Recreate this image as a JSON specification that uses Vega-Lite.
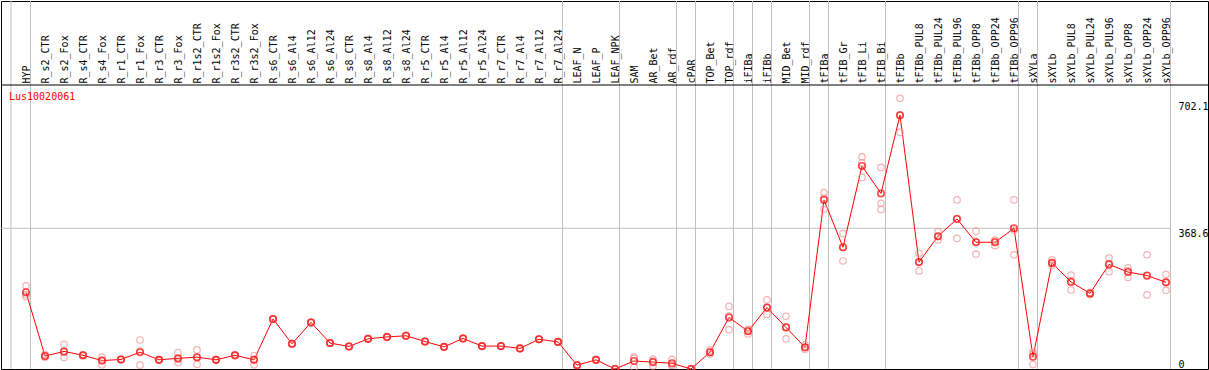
{
  "$schema": "https://vega.github.io/schema/vega-lite/v6.json",
  "width": 1207,
  "height": 368,
  "autosize": {"type": "none"},
  "padding": {"left": 1, "top": 1, "right": 1, "bottom": 1},
  "background": "white",
  "config": {"view": {"stroke": "black", "strokeWidth": 1}, "font": "DejaVu Sans Mono"},
  "datasets": {
    "groups": [
      {"cat": "HYP"}, {"cat": "R_r7_Al24"}, {"cat": "LEAF_NPK"}, {"cat": "AR_rdf"}, {"cat": "cPAR"},
      {"cat": "TOP_rdf"}, {"cat": "iFIBa"}, {"cat": "iFIBb"}, {"cat": "MID_rdf"}, {"cat": "tFIBa"},
      {"cat": "tFIB_Bi"}, {"cat": "tFIBb_OPP96"}, {"cat": "sXYLa"}, {"cat": "sXYLb_OPP96"}
    ],
    "one": [{"name": "Lus10020061"}],
    "means": [
      {"cat": "HYP", "value": 201}, {"cat": "R_s2_CTR", "value": 34}, {"cat": "R_s2_Fox", "value": 46},
      {"cat": "R_s4_CTR", "value": 36}, {"cat": "R_s4_Fox", "value": 22}, {"cat": "R_r1_CTR", "value": 25},
      {"cat": "R_r1_Fox", "value": 44}, {"cat": "R_r3_CTR", "value": 24}, {"cat": "R_r3_Fox", "value": 28},
      {"cat": "R_r1s2_CTR", "value": 31}, {"cat": "R_r1s2_Fox", "value": 24}, {"cat": "R_r3s2_CTR", "value": 36},
      {"cat": "R_r3s2_Fox", "value": 24}, {"cat": "R_s6_CTR", "value": 131}, {"cat": "R_s6_Al4", "value": 66},
      {"cat": "R_s6_Al12", "value": 122}, {"cat": "R_s6_Al24", "value": 68}, {"cat": "R_s8_CTR", "value": 59},
      {"cat": "R_s8_Al4", "value": 79}, {"cat": "R_s8_Al12", "value": 84}, {"cat": "R_s8_Al24", "value": 87},
      {"cat": "R_r5_CTR", "value": 72}, {"cat": "R_r5_Al4", "value": 58}, {"cat": "R_r5_Al12", "value": 80},
      {"cat": "R_r5_Al24", "value": 60}, {"cat": "R_r7_CTR", "value": 60}, {"cat": "R_r7_Al4", "value": 54},
      {"cat": "R_r7_Al12", "value": 78}, {"cat": "R_r7_Al24", "value": 71}, {"cat": "LEAF_N", "value": 10},
      {"cat": "LEAF_P", "value": 24}, {"cat": "LEAF_NPK", "value": 0}, {"cat": "SAM", "value": 21},
      {"cat": "AR_Bet", "value": 18}, {"cat": "AR_rdf", "value": 15}, {"cat": "cPAR", "value": 0},
      {"cat": "TOP_Bet", "value": 44}, {"cat": "TOP_rdf", "value": 135}, {"cat": "iFIBa", "value": 99},
      {"cat": "iFIBb", "value": 161}, {"cat": "MID_Bet", "value": 109}, {"cat": "MID_rdf", "value": 57},
      {"cat": "tFIBa", "value": 443}, {"cat": "tFIB_Gr", "value": 319}, {"cat": "tFIB_Li", "value": 532},
      {"cat": "tFIB_Bi", "value": 460}, {"cat": "tFIBb", "value": 665}, {"cat": "tFIBb_PUL8", "value": 280},
      {"cat": "tFIBb_PUL24", "value": 348}, {"cat": "tFIBb_PUL96", "value": 393}, {"cat": "tFIBb_OPP8", "value": 332},
      {"cat": "tFIBb_OPP24", "value": 332}, {"cat": "tFIBb_OPP96", "value": 368.6}, {"cat": "sXYLa", "value": 32},
      {"cat": "sXYLb", "value": 278}, {"cat": "sXYLb_PUL8", "value": 228}, {"cat": "sXYLb_PUL24", "value": 198},
      {"cat": "sXYLb_PUL96", "value": 274}, {"cat": "sXYLb_OPP8", "value": 254}, {"cat": "sXYLb_OPP24", "value": 245},
      {"cat": "sXYLb_OPP96", "value": 227}
    ],
    "reps": [
      {"cat": "HYP", "value": 218}, {"cat": "HYP", "value": 190}, {"cat": "HYP", "value": 195},
      {"cat": "R_s2_CTR", "value": 38}, {"cat": "R_s2_CTR", "value": 31}, {"cat": "R_s2_CTR", "value": 33},
      {"cat": "R_s2_Fox", "value": 65}, {"cat": "R_s2_Fox", "value": 30}, {"cat": "R_s2_Fox", "value": 44},
      {"cat": "R_s4_CTR", "value": 38}, {"cat": "R_s4_CTR", "value": 34}, {"cat": "R_s4_CTR", "value": 36},
      {"cat": "R_s4_Fox", "value": 31}, {"cat": "R_s4_Fox", "value": 11}, {"cat": "R_s4_Fox", "value": 23},
      {"cat": "R_r1_CTR", "value": 26}, {"cat": "R_r1_CTR", "value": 24}, {"cat": "R_r1_CTR", "value": 25},
      {"cat": "R_r1_Fox", "value": 76}, {"cat": "R_r1_Fox", "value": 10}, {"cat": "R_r1_Fox", "value": 47},
      {"cat": "R_r3_CTR", "value": 25}, {"cat": "R_r3_CTR", "value": 23}, {"cat": "R_r3_CTR", "value": 24},
      {"cat": "R_r3_Fox", "value": 43}, {"cat": "R_r3_Fox", "value": 17}, {"cat": "R_r3_Fox", "value": 25},
      {"cat": "R_r1s2_CTR", "value": 50}, {"cat": "R_r1s2_CTR", "value": 12}, {"cat": "R_r1s2_CTR", "value": 30},
      {"cat": "R_r1s2_Fox", "value": 25}, {"cat": "R_r1s2_Fox", "value": 23}, {"cat": "R_r1s2_Fox", "value": 24},
      {"cat": "R_r3s2_CTR", "value": 38}, {"cat": "R_r3s2_CTR", "value": 34}, {"cat": "R_r3s2_CTR", "value": 36},
      {"cat": "R_r3s2_Fox", "value": 35}, {"cat": "R_r3s2_Fox", "value": 11}, {"cat": "R_r3s2_Fox", "value": 25},
      {"cat": "R_s6_CTR", "value": 132}, {"cat": "R_s6_CTR", "value": 130}, {"cat": "R_s6_CTR", "value": 131},
      {"cat": "R_s6_Al4", "value": 67}, {"cat": "R_s6_Al4", "value": 65}, {"cat": "R_s6_Al4", "value": 66},
      {"cat": "R_s6_Al12", "value": 123}, {"cat": "R_s6_Al12", "value": 121}, {"cat": "R_s6_Al12", "value": 122},
      {"cat": "R_s6_Al24", "value": 69}, {"cat": "R_s6_Al24", "value": 67}, {"cat": "R_s6_Al24", "value": 68},
      {"cat": "R_s8_CTR", "value": 60}, {"cat": "R_s8_CTR", "value": 58}, {"cat": "R_s8_CTR", "value": 59},
      {"cat": "R_s8_Al4", "value": 80}, {"cat": "R_s8_Al4", "value": 78}, {"cat": "R_s8_Al4", "value": 79},
      {"cat": "R_s8_Al12", "value": 85}, {"cat": "R_s8_Al12", "value": 83}, {"cat": "R_s8_Al12", "value": 84},
      {"cat": "R_s8_Al24", "value": 88}, {"cat": "R_s8_Al24", "value": 86}, {"cat": "R_s8_Al24", "value": 87},
      {"cat": "R_r5_CTR", "value": 73}, {"cat": "R_r5_CTR", "value": 71}, {"cat": "R_r5_CTR", "value": 72},
      {"cat": "R_r5_Al4", "value": 59}, {"cat": "R_r5_Al4", "value": 57}, {"cat": "R_r5_Al4", "value": 58},
      {"cat": "R_r5_Al12", "value": 81}, {"cat": "R_r5_Al12", "value": 79}, {"cat": "R_r5_Al12", "value": 80},
      {"cat": "R_r5_Al24", "value": 61}, {"cat": "R_r5_Al24", "value": 59}, {"cat": "R_r5_Al24", "value": 60},
      {"cat": "R_r7_CTR", "value": 61}, {"cat": "R_r7_CTR", "value": 59}, {"cat": "R_r7_CTR", "value": 60},
      {"cat": "R_r7_Al4", "value": 55}, {"cat": "R_r7_Al4", "value": 53}, {"cat": "R_r7_Al4", "value": 54},
      {"cat": "R_r7_Al12", "value": 79}, {"cat": "R_r7_Al12", "value": 77}, {"cat": "R_r7_Al12", "value": 78},
      {"cat": "R_r7_Al24", "value": 72}, {"cat": "R_r7_Al24", "value": 70}, {"cat": "R_r7_Al24", "value": 71},
      {"cat": "LEAF_N", "value": 11}, {"cat": "LEAF_N", "value": 9}, {"cat": "LEAF_N", "value": 10},
      {"cat": "LEAF_P", "value": 25}, {"cat": "LEAF_P", "value": 23}, {"cat": "LEAF_P", "value": 24},
      {"cat": "LEAF_NPK", "value": 1}, {"cat": "LEAF_NPK", "value": 0}, {"cat": "LEAF_NPK", "value": 0},
      {"cat": "SAM", "value": 31}, {"cat": "SAM", "value": 4}, {"cat": "SAM", "value": 28},
      {"cat": "AR_Bet", "value": 26}, {"cat": "AR_Bet", "value": 8}, {"cat": "AR_Bet", "value": 21},
      {"cat": "AR_rdf", "value": 25}, {"cat": "AR_rdf", "value": 10}, {"cat": "AR_rdf", "value": 10},
      {"cat": "cPAR", "value": 1}, {"cat": "cPAR", "value": 0}, {"cat": "cPAR", "value": 0},
      {"cat": "TOP_Bet", "value": 50}, {"cat": "TOP_Bet", "value": 39}, {"cat": "TOP_Bet", "value": 44},
      {"cat": "TOP_rdf", "value": 164}, {"cat": "TOP_rdf", "value": 103}, {"cat": "TOP_rdf", "value": 139},
      {"cat": "iFIBa", "value": 104}, {"cat": "iFIBa", "value": 92}, {"cat": "iFIBa", "value": 101},
      {"cat": "iFIBb", "value": 181}, {"cat": "iFIBb", "value": 143}, {"cat": "iFIBb", "value": 160},
      {"cat": "MID_Bet", "value": 138}, {"cat": "MID_Bet", "value": 79}, {"cat": "MID_Bet", "value": 110},
      {"cat": "MID_rdf", "value": 63}, {"cat": "MID_rdf", "value": 52}, {"cat": "MID_rdf", "value": 56},
      {"cat": "tFIBa", "value": 462}, {"cat": "tFIBa", "value": 419}, {"cat": "tFIBa", "value": 448},
      {"cat": "tFIB_Gr", "value": 355}, {"cat": "tFIB_Gr", "value": 283}, {"cat": "tFIB_Gr", "value": 319},
      {"cat": "tFIB_Li", "value": 556}, {"cat": "tFIB_Li", "value": 502}, {"cat": "tFIB_Li", "value": 540},
      {"cat": "tFIB_Bi", "value": 528}, {"cat": "tFIB_Bi", "value": 434}, {"cat": "tFIB_Bi", "value": 418},
      {"cat": "tFIBb", "value": 709}, {"cat": "tFIBb", "value": 620}, {"cat": "tFIBb", "value": 666},
      {"cat": "tFIBb_PUL8", "value": 303}, {"cat": "tFIBb_PUL8", "value": 257}, {"cat": "tFIBb_PUL8", "value": 280},
      {"cat": "tFIBb_PUL24", "value": 360}, {"cat": "tFIBb_PUL24", "value": 338}, {"cat": "tFIBb_PUL24", "value": 347},
      {"cat": "tFIBb_PUL96", "value": 443}, {"cat": "tFIBb_PUL96", "value": 342}, {"cat": "tFIBb_PUL96", "value": 394},
      {"cat": "tFIBb_OPP8", "value": 361}, {"cat": "tFIBb_OPP8", "value": 301}, {"cat": "tFIBb_OPP8", "value": 334},
      {"cat": "tFIBb_OPP24", "value": 338}, {"cat": "tFIBb_OPP24", "value": 323}, {"cat": "tFIBb_OPP24", "value": 335},
      {"cat": "tFIBb_OPP96", "value": 443}, {"cat": "tFIBb_OPP96", "value": 299}, {"cat": "tFIBb_OPP96", "value": 364},
      {"cat": "sXYLa", "value": 45}, {"cat": "sXYLa", "value": 12}, {"cat": "sXYLa", "value": 39},
      {"cat": "sXYLb", "value": 286}, {"cat": "sXYLb", "value": 272}, {"cat": "sXYLb", "value": 277},
      {"cat": "sXYLb_PUL8", "value": 246}, {"cat": "sXYLb_PUL8", "value": 207}, {"cat": "sXYLb_PUL8", "value": 231},
      {"cat": "sXYLb_PUL24", "value": 201}, {"cat": "sXYLb_PUL24", "value": 195}, {"cat": "sXYLb_PUL24", "value": 198},
      {"cat": "sXYLb_PUL96", "value": 291}, {"cat": "sXYLb_PUL96", "value": 255}, {"cat": "sXYLb_PUL96", "value": 276},
      {"cat": "sXYLb_OPP8", "value": 265}, {"cat": "sXYLb_OPP8", "value": 240}, {"cat": "sXYLb_OPP8", "value": 257},
      {"cat": "sXYLb_OPP24", "value": 299}, {"cat": "sXYLb_OPP24", "value": 194}, {"cat": "sXYLb_OPP24", "value": 243},
      {"cat": "sXYLb_OPP96", "value": 248}, {"cat": "sXYLb_OPP96", "value": 206}, {"cat": "sXYLb_OPP96", "value": 227}
    ]
  },
  "layer": [
    {
      "data": {"name": "groups"},
      "mark": {"type": "rule", "color": "#c0c0c0", "strokeWidth": 1, "xOffset": 4.5},
      "encoding": {
        "x": {
          "field": "cat", "type": "nominal",
          "scale": {
            "type": "point", "range": [25, 1165], "padding": 0,
            "domain": ["HYP","R_s2_CTR","R_s2_Fox","R_s4_CTR","R_s4_Fox","R_r1_CTR","R_r1_Fox","R_r3_CTR","R_r3_Fox","R_r1s2_CTR","R_r1s2_Fox","R_r3s2_CTR","R_r3s2_Fox","R_s6_CTR","R_s6_Al4","R_s6_Al12","R_s6_Al24","R_s8_CTR","R_s8_Al4","R_s8_Al12","R_s8_Al24","R_r5_CTR","R_r5_Al4","R_r5_Al12","R_r5_Al24","R_r7_CTR","R_r7_Al4","R_r7_Al12","R_r7_Al24","LEAF_N","LEAF_P","LEAF_NPK","SAM","AR_Bet","AR_rdf","cPAR","TOP_Bet","TOP_rdf","iFIBa","iFIBb","MID_Bet","MID_rdf","tFIBa","tFIB_Gr","tFIB_Li","tFIB_Bi","tFIBb","tFIBb_PUL8","tFIBb_PUL24","tFIBb_PUL96","tFIBb_OPP8","tFIBb_OPP24","tFIBb_OPP96","sXYLa","sXYLb","sXYLb_PUL8","sXYLb_PUL24","sXYLb_PUL96","sXYLb_OPP8","sXYLb_OPP24","sXYLb_OPP96"]
          },
          "axis": {
            "orient": "top", "title": null, "domain": false, "ticks": false, "tickSize": 0, "grid": false,
            "labelAngle": -90, "labelAlign": "left", "labelBaseline": "middle", "labelPadding": -82,
            "labelFont": "DejaVu Sans Mono", "labelFontSize": 10, "labelColor": "black",
            "labelOverlap": false, "labelBound": false, "labelFlush": false
          }
        }
      }
    },
    {
      "data": {"name": "one"},
      "mark": {"type": "rule", "color": "#c0c0c0", "strokeWidth": 1, "xOffset": -15},
      "encoding": {"x": {"datum": "HYP", "type": "nominal"}}
    },
    {
      "data": {"name": "one"},
      "mark": {"type": "rule", "color": "#c0c0c0", "strokeWidth": 1, "xOffset": -25, "x2Offset": 4.5},
      "encoding": {
        "x": {"datum": "HYP", "type": "nominal"},
        "x2": {"datum": "sXYLb_OPP96"},
        "y": {"datum": 368.6, "type": "quantitative"}
      }
    },
    {
      "data": {"name": "one"},
      "mark": {"type": "rule", "color": "black", "strokeWidth": 1},
      "encoding": {"y": {"datum": 744, "type": "quantitative"}}
    },
    {
      "data": {"name": "means"},
      "mark": {"type": "line", "color": "#ff0000", "strokeWidth": 1},
      "encoding": {
        "x": {"field": "cat", "type": "nominal"},
        "y": {
          "field": "value", "type": "quantitative",
          "scale": {"domain": [0, 964.1], "nice": false, "zero": false},
          "axis": {
            "orient": "right", "title": null, "domain": false, "ticks": false, "tickSize": 0, "grid": false,
            "values": [0, 368.6, 702.1], "labelExpr": "'' + datum.value",
            "labelAlign": "left", "labelPadding": -30,
            "labelBaseline": {"condition": {"test": "datum.value == 0", "value": "bottom"}, "value": "top"},
            "labelFont": "DejaVu Sans Mono", "labelFontSize": 10, "labelColor": "black",
            "labelOverlap": false, "labelBound": false, "labelFlush": false
          }
        }
      }
    },
    {
      "data": {"name": "reps"},
      "mark": {"type": "point", "shape": "circle", "filled": false, "stroke": "#f09494", "strokeWidth": 1.2, "size": 42},
      "encoding": {
        "x": {"field": "cat", "type": "nominal"},
        "y": {"field": "value", "type": "quantitative"}
      }
    },
    {
      "data": {"name": "means"},
      "mark": {"type": "point", "shape": "circle", "filled": false, "stroke": "#ff0000", "strokeWidth": 1.6, "size": 42},
      "encoding": {
        "x": {"field": "cat", "type": "nominal"},
        "y": {"field": "value", "type": "quantitative"}
      }
    },
    {
      "data": {"name": "one"},
      "mark": {"type": "text", "color": "#ff0000", "font": "DejaVu Sans Mono", "fontSize": 10, "align": "left", "baseline": "middle", "dx": -17},
      "encoding": {
        "text": {"field": "name"},
        "x": {"datum": "HYP", "type": "nominal"},
        "y": {"datum": 712, "type": "quantitative"}
      }
    }
  ]
}
